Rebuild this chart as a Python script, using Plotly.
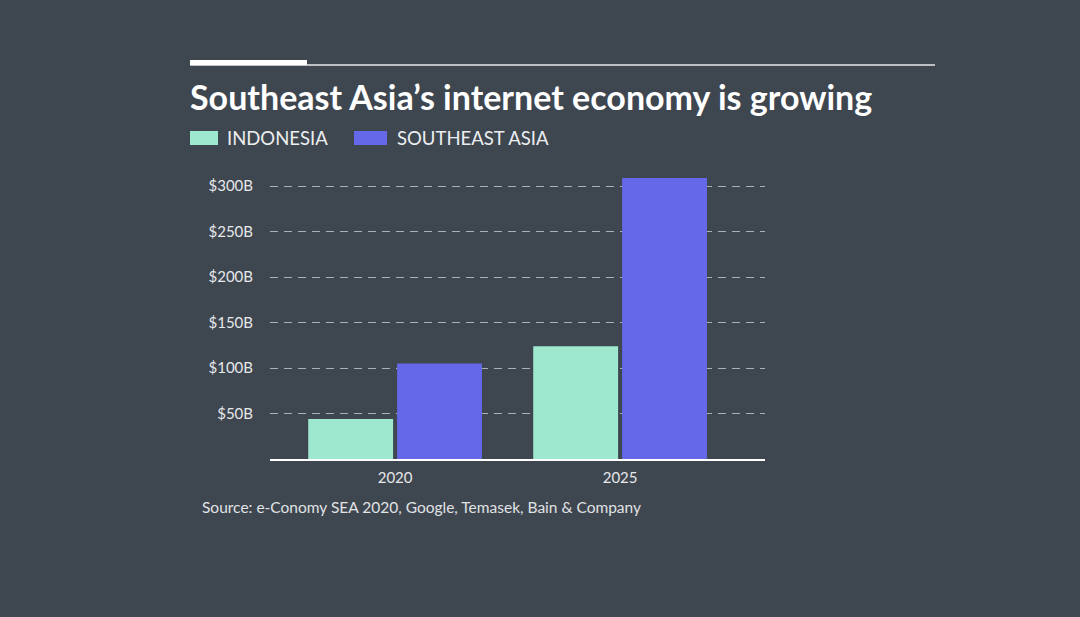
import plotly.graph_objects as go

# ---- data ----
years = ["2020", "2025"]
series_names = ["INDONESIA", "SOUTHEAST ASIA"]
indonesia = [44, 124]
southeast_asia = [105, 309]
tick_vals = [50, 100, 150, 200, 250, 300]
tick_text = ["$50B", "$100B", "$150B", "$200B", "$250B", "$300B"]
title_text = "Southeast Asia’s internet economy is growing"
source_text = "Source: e-Conomy SEA 2020, Google, Temasek, Bain &amp; Company"

colors = ["#9de8cf", "#6568e8"]
BG = "#3e4650"
FONT = "Lato"

W, H = 1080, 617
L, R, T, B = 270, 765, 168, 459  # plot area in pixels


def px(x):
    return (x - L) / (R - L)


def py(y):
    return (B - y) / (B - T)


fig = go.Figure()
for name, vals, col in zip(series_names, [indonesia, southeast_asia], colors):
    fig.add_trace(go.Bar(x=years, y=vals, name=name, marker=dict(color=col, line=dict(width=0)),
                         showlegend=False))

fig.update_layout(
    width=W, height=H,
    paper_bgcolor=BG, plot_bgcolor=BG,
    margin=dict(l=L, r=W - R, t=T, b=H - B, pad=0),
    barmode="group", bargap=0.21, bargroupgap=0.045,
    font=dict(family=FONT, color="#e6e8ea"),
    xaxis=dict(
        type="category", range=[-0.556, 1.644],
        showgrid=False, showline=True, linecolor="#ffffff", linewidth=2,
        ticks="outside", ticklen=4, tickcolor="rgba(0,0,0,0)",
        tickfont=dict(family=FONT, size=15, color="#e6e8ea"),
        fixedrange=True,
    ),
    yaxis=dict(
        range=[0, 320], tickvals=tick_vals, ticktext=tick_text,
        showgrid=True, gridcolor="rgba(230,232,235,0.65)", gridwidth=1, griddash="8px,6px",
        zeroline=False, showline=False,
        ticks="", ticklabelstandoff=16,
        tickfont=dict(family=FONT, size=15, color="#e6e8ea"),
        fixedrange=True,
    ),
)

shapes = []
# header lines
shapes.append(dict(type="line", xref="paper", yref="paper", x0=px(190), x1=px(935), y0=py(65), y1=py(65),
                   line=dict(color="#e8eaec", width=1.5)))
shapes.append(dict(type="rect", xref="paper", yref="paper", x0=px(190), x1=px(307), y0=py(60), y1=py(65),
                   fillcolor="#ffffff", line=dict(width=0)))
# legend swatches
shapes.append(dict(type="rect", xref="paper", yref="paper", x0=px(190), x1=px(218), y0=py(131), y1=py(145),
                   fillcolor=colors[0], line=dict(width=0)))
shapes.append(dict(type="rect", xref="paper", yref="paper", x0=px(354), x1=px(387), y0=py(131), y1=py(145),
                   fillcolor=colors[1], line=dict(width=0)))
fig.update_layout(shapes=shapes)

ann = []
ann.append(dict(text="<b>" + title_text + "</b>", xref="paper", yref="paper", x=px(188), y=py(96),
                xanchor="left", yanchor="middle", showarrow=False,
                font=dict(family=FONT, size=34, color="#ffffff")))
ann.append(dict(text=series_names[0], xref="paper", yref="paper", x=px(225), y=py(138),
                xanchor="left", yanchor="middle", showarrow=False,
                font=dict(family=FONT, size=18.5, color="#eceef0")))
ann.append(dict(text=series_names[1], xref="paper", yref="paper", x=px(395), y=py(138),
                xanchor="left", yanchor="middle", showarrow=False,
                font=dict(family=FONT, size=18.5, color="#eceef0")))
ann.append(dict(text=source_text, xref="paper", yref="paper", x=px(200), y=py(507),
                xanchor="left", yanchor="middle", showarrow=False,
                font=dict(family=FONT, size=15.5, color="#e0e2e4")))
fig.update_layout(annotations=ann)

fig.write_html("out.html", config={"displayModeBar": False},
               post_script="document.body.style.margin='0';document.body.style.background='" + BG + "';")
